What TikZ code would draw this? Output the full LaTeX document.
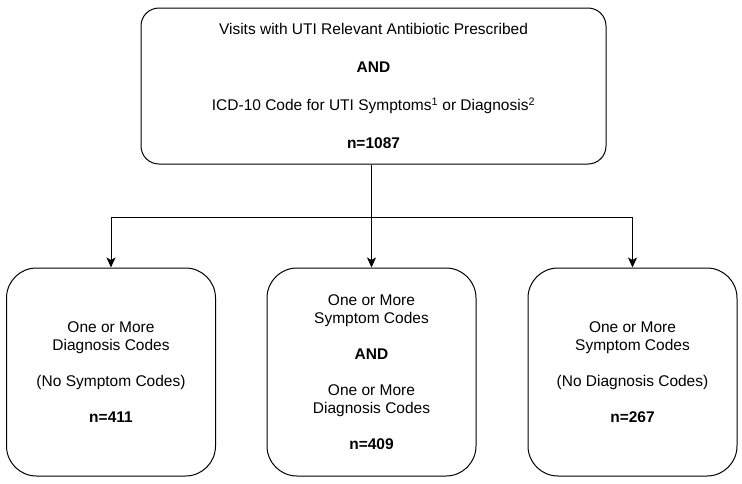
\documentclass[tikz,border=0pt]{standalone}
\usepackage{fontspec}
\setmainfont{Liberation Sans}
\usetikzlibrary{arrows.meta}

\begin{document}
\begin{tikzpicture}[x=1pt, y=-1pt, >={Stealth[length=10pt, width=9pt, inset=2.5pt]},
    topbox/.style={draw, line width=1pt, rounded corners=18pt, minimum width=465pt, minimum height=156pt, align=center, font=\fontsize{15.5}{19}\selectfont},
    groupbox/.style={draw, line width=1pt, rounded corners=30pt, minimum width=209pt, minimum height=208pt, align=center, font=\fontsize{15.5}{18}\selectfont}]
    \useasboundingbox (0,0) rectangle (742,483);

    \node[topbox] (top) at (373.5,86) {Visits with UTI Relevant Antibiotic Prescribed\\[19pt]
        \textbf{AND}\\[19pt]
        ICD-10 Code for UTI Symptoms\textsuperscript{1} or Diagnosis\textsuperscript{2}\\[19pt]
        \textbf{n=1087}};

    \node[groupbox] (diag) at (111,372) {One or More\\ Diagnosis Codes\\[18pt]
        (No Symptom Codes)\\[18pt]
        \textbf{n=411}};
    \node[groupbox] (both) at (371.5,372) {One or More\\ Symptom Codes\\[18pt]
        \textbf{AND}\\[18pt]
        One or More\\ Diagnosis Codes\\[18pt]
        \textbf{n=409}};
    \node[groupbox] (symp) at (632.5,372) {One or More\\ Symptom Codes\\[18pt]
        (No Diagnosis Codes)\\[18pt]
        \textbf{n=267}};

    \coordinate (split) at (both.north |- 0,217.5);

    \draw[->, line width=1pt] (top.south -| both.north) -- (both.north);
    \draw[->, line width=1pt] (split) -| (diag.north);
    \draw[->, line width=1pt] (split) -| (symp.north);
\end{tikzpicture}
\end{document}
